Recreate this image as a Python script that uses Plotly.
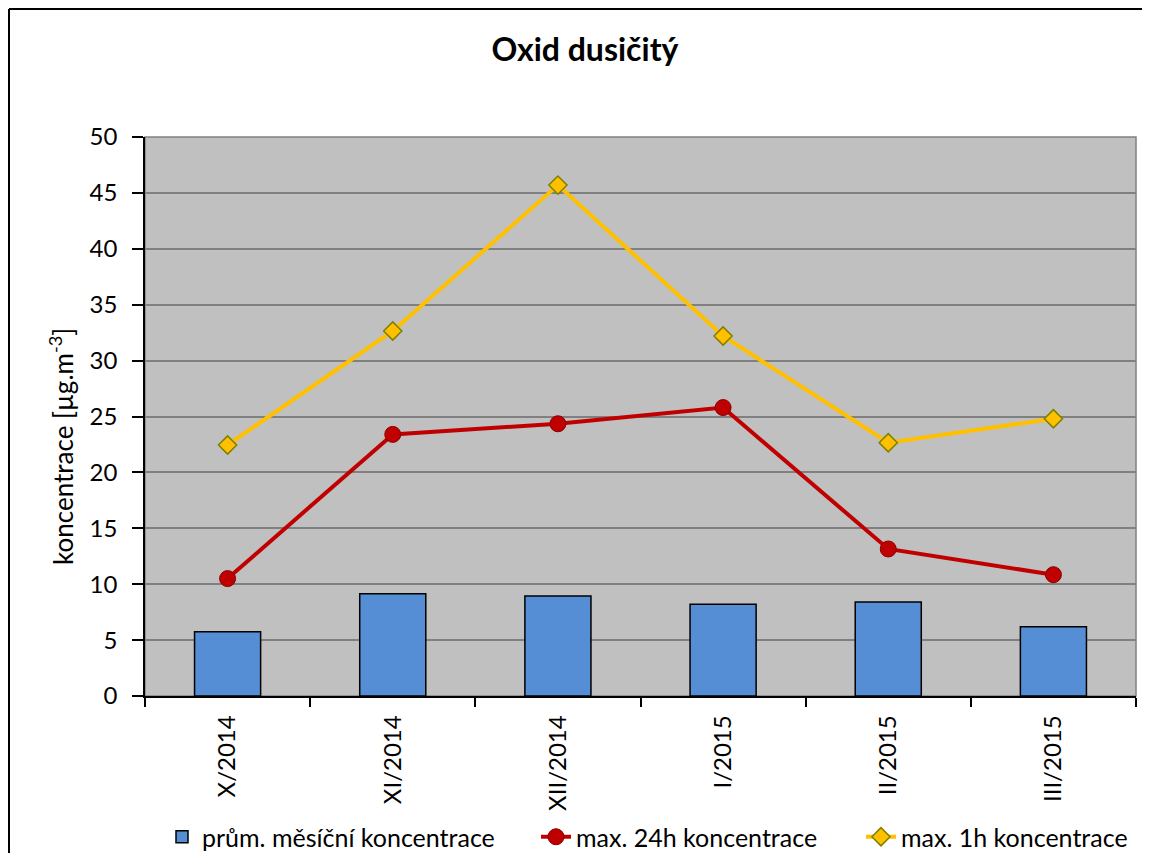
import plotly.graph_objects as go

categories = ["X/2014", "XI/2014", "XII/2014", "I/2015", "II/2015", "III/2015"]
avg_monthly = [5.75, 9.15, 8.95, 8.2, 8.4, 6.2]
max_24h = [10.5, 23.4, 24.35, 25.8, 13.15, 10.85]
max_1h = [22.45, 32.65, 45.7, 32.2, 22.65, 24.8]

FONT = "Lato"

fig = go.Figure()
fig.add_trace(go.Bar(
    x=categories, y=avg_monthly, name="prům. měsíční koncentrace", legend="legend",
    marker=dict(color="#558ED5", line=dict(color="black", width=1.5)),
))
fig.add_trace(go.Scatter(
    x=categories, y=max_24h, name="max. 24h koncentrace", mode="lines+markers",
    legend="legend2",
    line=dict(color="#C00000", width=4),
    marker=dict(symbol="circle", size=16, color="#C00000", line=dict(color="#8B0000", width=1)),
))
fig.add_trace(go.Scatter(
    x=categories, y=max_1h, name="max. 1h koncentrace", mode="lines+markers",
    legend="legend3",
    line=dict(color="#FFC000", width=4),
    marker=dict(symbol="diamond", size=14, color="#FFC000", line=dict(color="#7F7F00", width=1.5)),
))

# page has an 8px body margin on every side; figure sits at (8, 8)
OFF = 8
W, H = 1150 - 2 * OFF, 861 - 2 * OFF
L = 145 - OFF
T = 137 - OFF
R = W - (1136 - OFF)
B = H - (696 - OFF)
pw, ph = W - L - R, H - T - B

def px_x(x):  # page x -> paper x
    return (x - OFF - L) / pw

def px_y(y):  # page y -> paper y
    return (T + ph - (y - OFF)) / ph

def legend_at(page_x):
    return dict(orientation="h", x=px_x(page_x), xanchor="left",
                y=px_y(837), yanchor="middle",
                font=dict(family=FONT, size=25), bgcolor="rgba(0,0,0,0)",
                itemwidth=30)

fig.update_layout(
    width=W, height=H,
    margin=dict(l=L, r=R, t=T, b=B, pad=0, autoexpand=False),
    paper_bgcolor="white",
    plot_bgcolor="#C0C0C0",
    font=dict(family=FONT, size=24, color="black"),
    title=dict(text="<b>Oxid dusičitý</b>", x=(585 - OFF) / W, xanchor="center",
               y=1 - (50 - OFF) / H, yanchor="middle",
               font=dict(family=FONT, size=32, color="black")),
    bargap=0.6,
    showlegend=True,
    legend=legend_at(162),
    legend2=legend_at(536),
    legend3=legend_at(861),
    xaxis=dict(
        type="category", tickangle=-90, tickson="boundaries",
        ticks="outside", ticklen=9, tickwidth=1.5, tickcolor="black",
        ticklabelstandoff=8,
        showline=True, linecolor="black", linewidth=1.5,
        showgrid=False, tickfont=dict(family=FONT, size=24),
        range=[-0.5, 5.5],
    ),
    yaxis=dict(
        range=[0, 50], dtick=5, ticks="outside", ticklen=11, tickwidth=1.5,
        tickcolor="black", showline=True, linecolor="black", linewidth=1.5,
        showgrid=True, gridcolor="#808080", gridwidth=1.5,
        ticklabelstandoff=10,
        zeroline=False, tickfont=dict(family=FONT, size=24),
    ),
    annotations=[
        dict(text="koncentrace [µg.m<sup>-3</sup>]", textangle=-90,
             xref="paper", yref="paper", x=px_x(61), y=px_y(447),
             xanchor="center", yanchor="middle", showarrow=False,
             font=dict(family=FONT, size=26, color="black")),
    ],
    shapes=[
        dict(type="rect", xref="paper", yref="paper", x0=0, x1=1, y0=0, y1=1,
             line=dict(color="#808080", width=1.5), layer="below"),
        dict(type="line", xref="paper", yref="paper",
             x0=px_x(9), x1=px_x(9), y0=px_y(900), y1=px_y(9),
             line=dict(color="black", width=2)),
        dict(type="line", xref="paper", yref="paper",
             x0=px_x(9), x1=px_x(1200), y0=px_y(9), y1=px_y(9),
             line=dict(color="black", width=2)),
    ],
)

fig.write_html("out.html")
